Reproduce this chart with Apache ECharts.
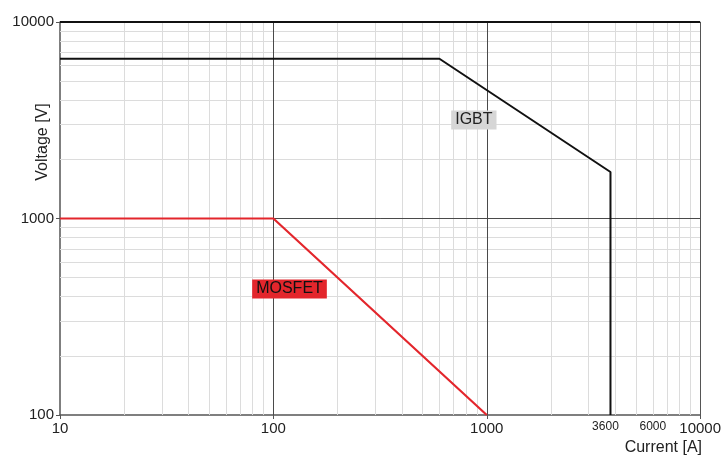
<!DOCTYPE html>
<html>
<head>
<meta charset="utf-8">
<script src="https://cdn.jsdelivr.net/npm/echarts@6/dist/echarts.min.js"></script>
<style>
  html, body { margin: 0; padding: 0; background: #fff; }
  #main { width: 724px; height: 470px; }
</style>
</head>
<body>
<div id="main"></div>
<script>
// tick labels
const currentTicks = [10, 100, 1000, 3600, 6000, 10000];
const voltageTicks = [100, 1000, 10000];
const smallTicks = [3600, 6000];

// curves (current [A], voltage [V])
const igbtCurrent = [10, 600, 3800, 3800];
const igbtVoltage = [6500, 6500, 1725, 100];
const mosfetCurrent = [10, 100, 1000];
const mosfetVoltage = [1000, 1000, 100];

// label anchors
const igbtLabel = [870, 3170];
const mosfetLabel = [119, 438];

const FONT = 'Liberation Sans, Arial, sans-serif';

function zip(xs, ys) {
    return xs.map((x, i) => [x, ys[i]]);
}

// 2..9 gridlines per decade
function minorValues(from, to) {
    const out = [];
    for (let d = from; d < to; d *= 10) {
        for (let k = 2; k <= 9; k++) out.push(d * k);
    }
    return out;
}

const minorStyle = { color: '#dcdcdc', width: 1, type: 'solid' };
const majorStyle = { color: '#4a4a4a', width: 1, type: 'solid' };

const gridLines = []
    .concat(minorValues(10, 10000).map(v => ({ xAxis: v, lineStyle: minorStyle })))
    .concat(minorValues(100, 10000).map(v => ({ yAxis: v, lineStyle: minorStyle })))
    .concat([100, 1000].map(v => ({ xAxis: v, lineStyle: majorStyle })))
    .concat([{ yAxis: 1000, lineStyle: majorStyle }])
    .concat([{ xAxis: 10000, lineStyle: { color: '#555', width: 1, type: 'solid' } }])
    .concat([{ yAxis: 10000, lineStyle: { color: '#111', width: 2.2, type: 'solid' } }]);

function boxLabel(text, bg, fg) {
    return {
        show: true,
        position: 'inside',
        formatter: text,
        fontSize: 16,
        color: fg,
        fontFamily: FONT,
        backgroundColor: bg,
        padding: [2, 4, 1, 4],
        opacity: 1
    };
}

var myChart = echarts.init(document.getElementById('main'));

var option = {
    animation: false,
    textStyle: { fontFamily: FONT },
    grid: { left: 60, right: 22, top: 22, bottom: 55 },
    xAxis: {
        type: 'log',
        logBase: 10,
        min: 10,
        max: 10000,
        axisLine: { lineStyle: { color: '#555', width: 1.5 } },
        axisTick: { show: true, length: 4, lineStyle: { color: '#555' } },
        splitLine: { show: false },
        axisLabel: {
            customValues: currentTicks,
            color: '#222',
            fontSize: 15,
            margin: 6,
            fontFamily: FONT,
            showMinLabel: true,
            showMaxLabel: true,
            hideOverlap: false,
            formatter: v => smallTicks.indexOf(v) >= 0 ? '{s|' + v + '}' : String(v),
            rich: { s: { fontSize: 12, color: '#222', fontFamily: FONT } }
        }
    },
    yAxis: {
        type: 'log',
        logBase: 10,
        min: 100,
        max: 10000,
        axisLine: { show: true, lineStyle: { color: '#555', width: 1.5 } },
        axisTick: { show: true, length: 4, lineStyle: { color: '#555' } },
        splitLine: { show: false },
        axisLabel: {
            customValues: voltageTicks,
            color: '#222',
            fontSize: 15,
            margin: 6,
            fontFamily: FONT,
            showMinLabel: true,
            showMaxLabel: true,
            formatter: v => String(v)
        }
    },
    graphic: [
        {
            type: 'text',
            x: 43, y: 142,
            rotation: Math.PI / 2,
            style: {
                text: 'Voltage [V]',
                font: '16px ' + FONT,
                fill: '#222',
                align: 'center',
                verticalAlign: 'middle'
            }
        },
        {
            type: 'text',
            x: 702, y: 448,
            style: {
                text: 'Current [A]',
                font: '16px ' + FONT,
                fill: '#222',
                align: 'right',
                verticalAlign: 'middle'
            }
        }
    ],
    series: [
        {
            type: 'line',
            data: [],
            z: 1,
            silent: true,
            markLine: {
                silent: true,
                symbol: ['none', 'none'],
                label: { show: false },
                animation: false,
                data: gridLines
            }
        },
        {
            name: 'IGBT',
            type: 'line',
            z: 5,
            data: zip(igbtCurrent, igbtVoltage),
            showSymbol: false,
            lineStyle: { color: '#111', width: 2 }
        },
        {
            name: 'MOSFET',
            type: 'line',
            z: 5,
            data: zip(mosfetCurrent, mosfetVoltage),
            showSymbol: false,
            lineStyle: { color: '#e3262c', width: 2.2 }
        },
        {
            type: 'scatter',
            z: 6,
            silent: true,
            symbolSize: 1,
            itemStyle: { color: 'transparent', opacity: 1 },
            data: [igbtLabel],
            label: boxLabel('IGBT', '#d6d6d6', '#222')
        },
        {
            type: 'scatter',
            z: 6,
            silent: true,
            symbolSize: 1,
            itemStyle: { color: 'transparent', opacity: 1 },
            data: [mosfetLabel],
            label: boxLabel('MOSFET', '#e3262c', '#111')
        }
    ]
};

option && myChart.setOption(option);
</script>
</body>
</html>
